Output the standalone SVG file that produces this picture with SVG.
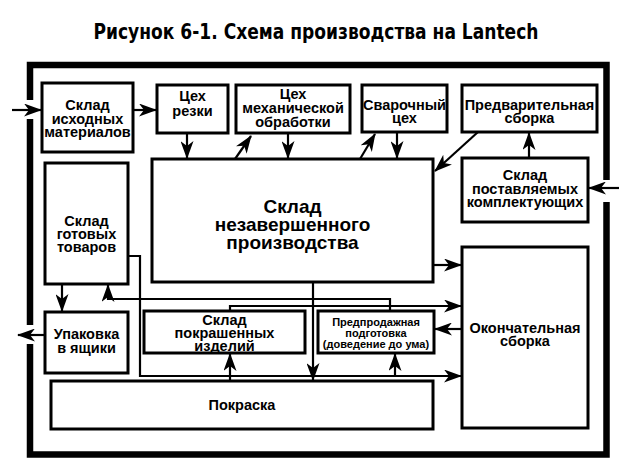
<svg xmlns="http://www.w3.org/2000/svg" width="630" height="469" viewBox="0 0 630 469">
<style>
.box{fill:#fff;stroke:#000;stroke-width:3}
.t{font-family:"Liberation Sans",Arial,sans-serif;font-weight:bold;font-size:14.5px;text-anchor:middle;fill:#000}
.big{font-size:19px}
.sm{font-size:11px}
.frame{fill:none;stroke:#000;stroke-width:6.5;stroke-linecap:butt;stroke-linejoin:miter}
.c{fill:none;stroke:#000;stroke-width:2.2}
.a{marker-end:url(#ah)}
.title{font-family:"DejaVu Sans Condensed","DejaVu Sans","Liberation Sans",sans-serif;font-weight:bold;font-size:21px;text-anchor:middle;fill:#000}
</style>
<defs>
<marker id="ah" markerUnits="userSpaceOnUse" markerWidth="18" markerHeight="13" refX="17" refY="6.5" orient="auto" viewBox="0 0 18 13">
<path d="M0,0 L18,6.5 L0,13 L5,6.5 Z" fill="#000"/>
</marker>
</defs>
<rect width="630" height="469" fill="#fff"/>
<text class="title" x="316" y="39" textLength="445" lengthAdjust="spacingAndGlyphs">Рисунок 6-1. Схема производства на Lantech</text>
<g id="frame">
<path class="frame" d="M30,100 V65 H606.5 V180"/>
<path class="frame" d="M606.5,202 V454.5 H30 V344"/>
<path class="frame" d="M30,119 V325"/>
</g>
<g id="connectors">
<path class="c a" d="M12,110 H41"/>
<path class="c a" d="M619,188 H589"/>
<path class="c a" d="M45,335 H18"/>
<path class="c a" d="M133,110 H156"/>
<path class="c a" d="M187,133 V158"/>
<path class="c a" d="M235,159 L251,136"/>
<path class="c a" d="M288,133 V158"/>
<path class="c a" d="M360,159 L375,134"/>
<path class="c a" d="M397,132 V158"/>
<path class="c a" d="M478,132 L435,171"/>
<path class="c a" d="M529,158 V133"/>
<path class="c a" d="M62,284 V311"/>
<path class="c a" d="M433,265 H461"/>
<path class="c a" d="M462,329 H435"/>
<path class="c a" d="M313,282 V380"/>
<path class="c a" d="M128,256 H140 V376 H461"/>
<path class="c a" d="M230,381 V354"/>
<path class="c a" d="M395,376 V354"/>
<path class="c a" d="M230,311 V306 H461"/>
<path class="c a" d="M390,311 V299 H108 V285"/>
</g>
<g id="raw-materials"><rect class="box" x="42" y="83" width="91" height="69"/>
<text class="t" x="87.5" y="110">Склад</text><text class="t" x="87.5" y="123.5">исходных</text><text class="t" x="87.5" y="137">материалов</text></g>
<g id="cutting"><rect class="box" x="157" y="85" width="71" height="48"/>
<text class="t" x="192.5" y="101">Цех</text><text class="t" x="192.5" y="116">резки</text></g>
<g id="machining"><rect class="box" x="236" y="85" width="114" height="48"/>
<text class="t" x="293" y="99">Цех</text><text class="t" x="293" y="113">механической</text><text class="t" x="293" y="127">обработки</text></g>
<g id="welding"><rect class="box" x="362" y="85" width="85" height="47"/>
<text class="t" x="404.5" y="110">Сварочный</text><text class="t" x="404.5" y="123">цех</text></g>
<g id="preassembly"><rect class="box" x="462" y="85" width="135" height="47"/>
<text class="t" x="529.5" y="110">Предварительная</text><text class="t" x="529.5" y="123">сборка</text></g>
<g id="purchased"><rect class="box" x="462" y="158" width="126" height="64"/>
<text class="t" x="525" y="180">Склад</text><text class="t" x="525" y="194">поставляемых</text><text class="t" x="525" y="207">комплектующих</text></g>
<g id="wip"><rect class="box" x="152" y="159" width="281" height="123"/>
<text class="t big" x="292.5" y="213">Склад</text><text class="t big" x="292.5" y="231">незавершенного</text><text class="t big" x="292.5" y="249">производства</text></g>
<g id="finished"><rect class="box" x="45" y="163" width="83" height="121"/>
<text class="t" x="86.5" y="226">Склад</text><text class="t" x="86.5" y="239">готовых</text><text class="t" x="86.5" y="252">товаров</text></g>
<g id="packing"><rect class="box" x="45" y="312" width="83" height="61"/>
<text class="t" x="86.5" y="339">Упаковка</text><text class="t" x="86.5" y="353">в ящики</text></g>
<g id="painted"><rect class="box" x="144" y="311" width="161" height="42"/>
<text class="t" x="224.5" y="325">Склад</text><text class="t" x="224.5" y="338">покрашенных</text><text class="t" x="224.5" y="350.5">изделий</text></g>
<g id="presale"><rect class="box" x="318" y="311" width="116" height="42"/>
<text class="t sm" x="376" y="326">Предпродажная</text><text class="t sm" x="376" y="337">подготовка</text><text class="t sm" x="376" y="348">(доведение до ума)</text></g>
<g id="final"><rect class="box" x="462" y="247" width="126" height="181"/>
<text class="t" x="525" y="333">Окончательная</text><text class="t" x="525" y="346">сборка</text></g>
<g id="painting"><rect class="box" x="51" y="381" width="382" height="48"/>
<text class="t" x="242" y="410">Покраска</text></g>
</svg>
